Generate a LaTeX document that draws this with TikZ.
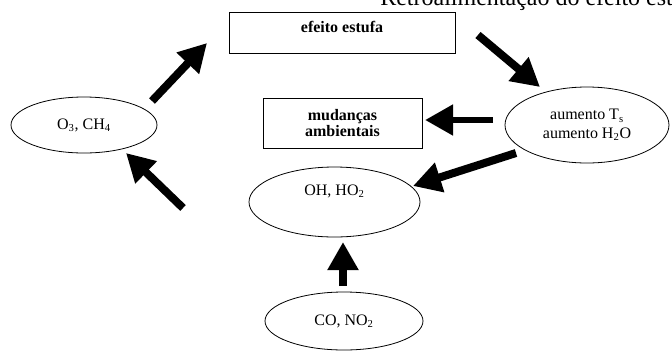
\documentclass[tikz,border=0pt]{standalone}
\usepackage{fontspec}
\setmainfont{Liberation Serif}
\usetikzlibrary{arrows.meta,positioning,shapes.geometric}

\begin{document}
\begin{tikzpicture}[x=0.75pt,y=-0.75pt,font=\fontsize{12}{14}\selectfont]
\tikzstyle{arc}=[-{Triangle[length=21pt,width=22pt]},line width=6pt]
\tikzstyle{place}=[ellipse,draw=black,line width=0.6pt,inner sep=0pt,align=center]
\tikzstyle{box}=[rectangle,draw=black,line width=0.6pt,inner sep=0pt,align=center,font=\fontsize{12}{12}\selectfont\bfseries]
\useasboundingbox (0,0) rectangle (672,351);
\clip (0,0) rectangle (672,351);
%% TikZ-figure elements %%
\node[anchor=base west,inner sep=0pt,font=\fontsize{18}{21}\selectfont] at (380,5) (title) {Retroalimentação do efeito estufa};
\node[box,minimum width=169.5pt,minimum height=30.75pt,text depth=9pt] at (342,32.5) (estufa) {efeito estufa};
\node[box,minimum width=119.25pt,minimum height=37.5pt] at (342.5,123) (mudancas) {mudanças\\ambientais};
\node[place,minimum width=109.5pt,minimum height=42pt] at (84,125) (P0) {O\textsubscript{3}, CH\textsubscript{4}};
\node[place,minimum width=123pt,minimum height=57pt] at (587,125) (P1) {aumento T\textsubscript{s}\\aumento H\textsubscript{2}O};
\node[place,minimum width=128.25pt,minimum height=52.5pt,text depth=18pt] at (334.5,202) (P2) {OH, HO\textsubscript{2}};
\node[place,minimum width=118.5pt,minimum height=43.5pt] at (344,321) (P3) {CO, NO\textsubscript{2}};
%% free arrow ends %%
\coordinate (A0s) at (152,101);
\coordinate (A0e) at (207,43);
\coordinate (A1s) at (478,35);
\coordinate (A1e) at (540,87);
\coordinate (A2s) at (493,120);
\coordinate (A2e) at (425,120);
\coordinate (A3s) at (516,153);
\coordinate (A3e) at (413,186);
\coordinate (A4s) at (183,208);
\coordinate (A4e) at (126,153);
\coordinate (A5s) at (343,286);
\coordinate (A5e) at (343,242);
\draw[arc] (A0s) -- (A0e);
\draw[arc] (A1s) -- (A1e);
\draw[arc,line width=5pt] (A2s) -- (A2e);
\draw[arc] (A3s) -- (A3e);
\draw[arc] (A4s) -- (A4e);
\draw[arc] (A5s) -- (A5e);
\end{tikzpicture}
\end{document}
